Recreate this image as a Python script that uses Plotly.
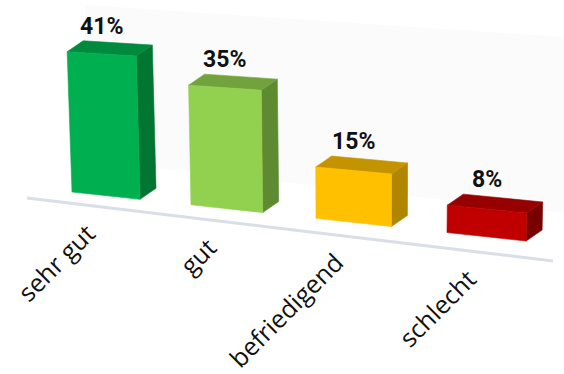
import plotly.graph_objects as go

# Survey result shares (percent) per rating
categories = ["sehr gut", "gut", "befriedigend", "schlecht"]
values = [41, 35, 15, 8]
value_labels = ["41%", "35%", "15%", "8%"]

# Face colours: front, right side, top
front_colors = ["#00B050", "#92D050", "#FFC000", "#C00000"]
side_colors = ["#007632", "#5E8A32", "#B08500", "#780000"]
top_colors = ["#008A3E", "#72A23C", "#C49400", "#960000"]

W, H = 564, 374

# Oblique "3D" projection in pixel space (y grows downward)
PX_PER_PCT = 3.42
FLOOR_X0, FLOOR_Y0, FLOOR_SLOPE = 72.0, 192.0, 0.108
DEPTH = (16.0, -11.0)


def floor_y(x):
    return FLOOR_Y0 + FLOOR_SLOPE * (x - FLOOR_X0)


def bar_left(i):
    return FLOOR_X0 + 119 * i + 3 * i * (i - 1)


def bar_width(i):
    return 68 + 3.7 * i


def lean(x, h):
    # slight perspective divergence of vertical edges
    return (x - 360.0) * h * 1.2e-4


def bar_geometry(i, v):
    h = v * PX_PER_PCT
    w = bar_width(i)
    xl = bar_left(i)
    xr = xl + w
    bl = (xl, floor_y(xl))
    br = (xr, floor_y(xr))
    top_slope = FLOOR_SLOPE - 0.0011 * v
    tl = (xl + lean(xl, h), bl[1] - h)
    tr = (xr + lean(xr, h), tl[1] + w * top_slope)
    dx, dy = DEPTH
    btl = (tl[0] + dx, tl[1] + dy)
    btr = (tr[0] + dx, tr[1] + dy)
    bbr = (br[0] + dx, br[1] + dy)
    return dict(bl=bl, br=br, tl=tl, tr=tr, btl=btl, btr=btr, bbr=bbr)


def face(points, color):
    xs = [p[0] for p in points] + [points[0][0]]
    ys = [p[1] for p in points] + [points[0][1]]
    return go.Scatter(x=xs, y=ys, mode="lines", fill="toself",
                      fillcolor=color, line=dict(width=0.6, color=color),
                      hoverinfo="skip", showlegend=False)


fig = go.Figure()

# back wall and floor edge
fig.add_shape(type="path",
              path="M 85 5 L 564 37 L 564 213 L 85 160 Z",
              fillcolor="#fbfbfb", line=dict(width=0), layer="below")
fig.add_shape(type="line", x0=27, y0=198, x1=553, y1=261,
              line=dict(color="#dadee6", width=3), layer="below")

annotations = []
for i, (cat, v, lab) in enumerate(zip(categories, values, value_labels)):
    g = bar_geometry(i, v)
    fig.add_trace(face([g["tr"], g["btr"], g["bbr"], g["br"]], side_colors[i]))
    fig.add_trace(face([g["tl"], g["tr"], g["btr"], g["btl"]], top_colors[i]))
    fig.add_trace(face([g["bl"], g["br"], g["tr"], g["tl"]], front_colors[i]))

    cx = (g["tl"][0] + g["tr"][0]) / 2
    annotations.append(dict(
        x=cx, y=g["tl"][1] - 10, text=f"<b>{lab}</b>", showarrow=False,
        xanchor="center", yanchor="bottom",
        font=dict(family="Roboto", size=23, color="#111111")))

    bx = (g["bl"][0] + g["br"][0]) / 2
    line_y = 198 + (261 - 198) / (553 - 27) * (bx - 27)
    annotations.append(dict(
        x=bx - 1, y=line_y + 6, text=cat, showarrow=False, textangle=-45,
        xanchor="right", yanchor="top",
        font=dict(family="Open Sans", size=25, color="#111111")))

fig.update_layout(
    width=W, height=H,
    margin=dict(l=0, r=0, t=0, b=0),
    paper_bgcolor="white", plot_bgcolor="white",
    xaxis=dict(range=[0, W], visible=False, fixedrange=True),
    yaxis=dict(range=[H, 0], visible=False, fixedrange=True),
    annotations=annotations,
    showlegend=False,
)

fig.write_html("out.html", config={"displayModeBar": False})
